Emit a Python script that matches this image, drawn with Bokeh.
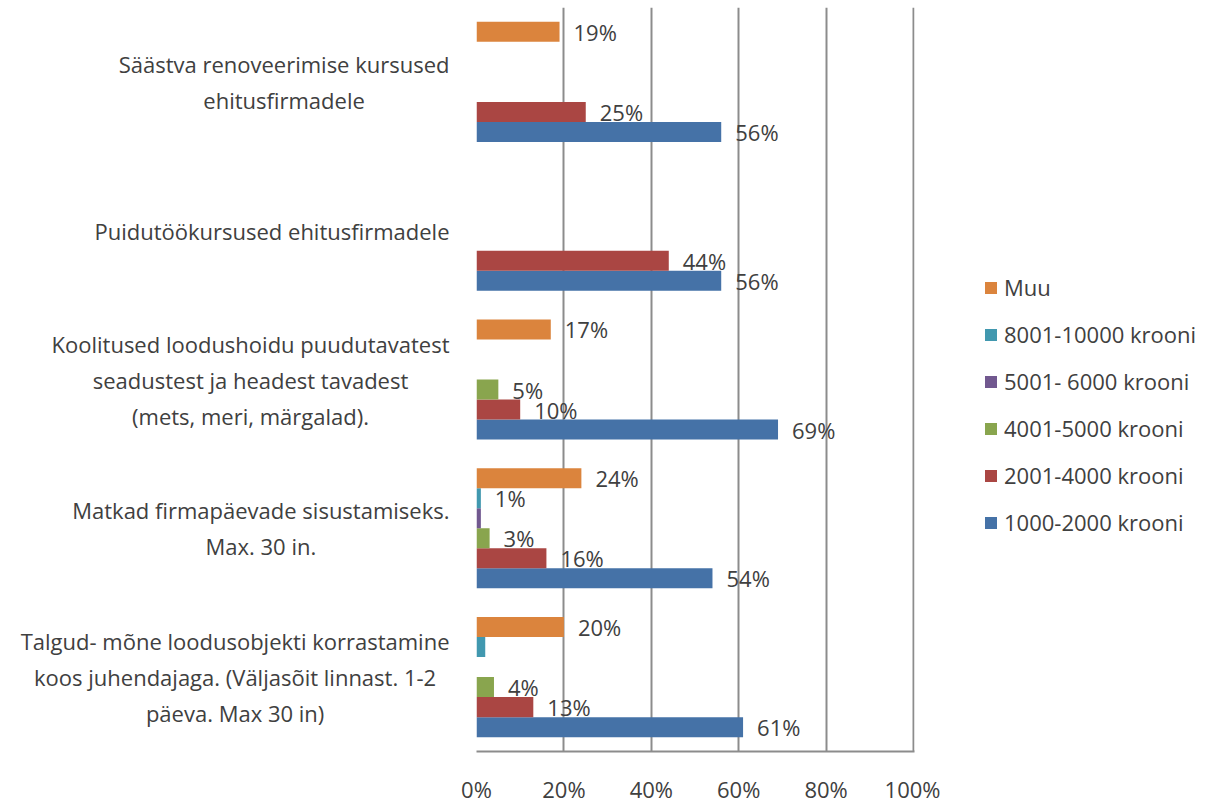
from bokeh.plotting import figure
from bokeh.layouts import row
from bokeh.models import (ColumnDataSource, FactorRange, Range1d, FixedTicker,
                          NumeralTickFormatter, Legend, LegendItem)
from bokeh.transform import dodge
from bokeh.core.properties import value
from bokeh.embed import file_html
from bokeh.resources import INLINE

# ---- data -------------------------------------------------------------
categories = [
    "Talgud- mõne loodusobjekti korrastamine\nkoos juhendajaga. (Väljasõit linnast. 1-2\npäeva. Max 30 in)",
    "Matkad firmapäevade sisustamiseks.\nMax. 30 in.",
    "Koolitused loodushoidu puudutavatest\nseadustest ja headest tavadest\n(mets, meri, märgalad).",
    "Puidutöökursused ehitusfirmadele",
    "Säästva renoveerimise kursused\nehitusfirmadele",
]

series_names = ["1000-2000 krooni", "2001-4000 krooni", "4001-5000 krooni",
                "5001- 6000 krooni", "8001-10000 krooni", "Muu"]

v_1000_2000 = [61, 54, 69, 56, 56]
v_2001_4000 = [13, 16, 10, 44, 25]
v_4001_5000 = [4, 3, 5, 0, 0]
v_5001_6000 = [0, 1, 0, 0, 0]
v_8001_10000 = [2, 1, 0, 0, 0]
v_muu = [20, 24, 17, 0, 19]

lab_1000_2000 = ["61%", "54%", "69%", "56%", "56%"]
lab_2001_4000 = ["13%", "16%", "10%", "44%", "25%"]
lab_4001_5000 = ["4%", "3%", "5%", "", ""]
lab_5001_6000 = ["", "", "", "", ""]
lab_8001_10000 = ["", "1%", "", "", ""]
lab_muu = ["20%", "24%", "17%", "", "19%"]

x_ticks = [0, 0.2, 0.4, 0.6, 0.8, 1.0]

colors = ["#4572A7", "#AA4643", "#89A54E", "#71588F", "#4198AF", "#DB843D"]

values_all = [v_1000_2000, v_2001_4000, v_4001_5000, v_5001_6000, v_8001_10000, v_muu]
labels_all = [lab_1000_2000, lab_2001_4000, lab_4001_5000, lab_5001_6000, lab_8001_10000, lab_muu]

FONT = "Open Sans"
TXT = "#404040"
GRID = "#8c8c8c"
H = 807
TOP, BOTTOM = 7, 56

yr = FactorRange(factors=categories, range_padding=0)

# ---- left: category labels -------------------------------------------
p0 = figure(width=451, height=H, y_range=yr, x_range=Range1d(0, 451),
            output_backend="svg", toolbar_location=None,
            min_border_left=0, min_border_right=0,
            min_border_top=TOP, min_border_bottom=BOTTOM,
            outline_line_color=None)
p0.axis.visible = False
p0.grid.visible = False
csrc = ColumnDataSource(dict(cat=categories, xpos=[449] * len(categories)))
p0.text(x="xpos", y="cat", text="cat", source=csrc,
        anchor=value("center_right"), text_align="center", text_baseline="middle",
        text_font=value(FONT), text_font_size="22px", text_color=TXT)

# ---- main chart -------------------------------------------------------
# frame is 438 px wide so the 100% grid line (at 437 px) is fully visible
p = figure(width=489, height=H, y_range=yr, x_range=Range1d(0, 438 / 437),
           output_backend="svg", toolbar_location=None,
           min_border_left=25, min_border_right=26,
           min_border_top=TOP, min_border_bottom=BOTTOM,
           outline_line_color=None)

bar_h = 0.1345
renderers = []
for i, (name, vals, labs, col) in enumerate(zip(series_names, values_all, labels_all, colors)):
    off = (-2.5 + i) * bar_h
    src = ColumnDataSource(dict(cat=categories, val=[v / 100 for v in vals], lab=labs))
    r = p.hbar(y=dodge("cat", off, range=p.y_range), left=0, right="val", height=bar_h,
               fill_color=col, line_color=None, source=src)
    p.text(x="val", y=dodge("cat", off, range=p.y_range), text="lab", source=src,
           x_offset=14, text_baseline="middle", text_align="left",
           text_font=value(FONT), text_font_size="22px", text_color=TXT)
    renderers.append(r)

p.yaxis.visible = False
p.xaxis.ticker = FixedTicker(ticks=x_ticks)
p.xaxis.formatter = NumeralTickFormatter(format="0%")
p.xaxis.axis_line_color = GRID
p.xaxis.axis_line_width = 2
p.xaxis.major_tick_line_color = None
p.xaxis.minor_tick_line_color = None
p.xaxis.major_tick_in = 0
p.xaxis.major_tick_out = 0
p.xaxis.major_label_standoff = 22
p.xaxis.major_label_text_font = FONT
p.xaxis.major_label_text_font_size = "22px"
p.xaxis.major_label_text_color = TXT

p.xgrid.ticker = FixedTicker(ticks=x_ticks)
p.xgrid.grid_line_color = GRID
p.xgrid.grid_line_width = 2
p.ygrid.grid_line_color = None

# ---- right: legend ----------------------------------------------------
p2 = figure(width=276, height=H, x_range=Range1d(0, 1), y_range=Range1d(0, 1),
            output_backend="svg", toolbar_location=None,
            min_border_left=0, min_border_right=0, min_border_top=0, min_border_bottom=0,
            outline_line_color=None)
p2.axis.visible = False
p2.grid.visible = False
# legend swatches only (zero-size placeholders, nothing visible in the panel)
leg_r = [p2.hbar(y=[0], left=[0], right=[0], height=0, fill_color=c, line_color=None)
         for c in colors]
items = [LegendItem(label=n, renderers=[r]) for n, r in zip(series_names, leg_r)][::-1]
legend = Legend(items=items, location=(43, 214), orientation="vertical",
                glyph_width=15, glyph_height=15, label_standoff=6,
                label_height=30, spacing=17, padding=0, margin=0,
                border_line_color=None, background_fill_alpha=0,
                label_text_font=FONT, label_text_font_size="22px",
                label_text_color=TXT)
p2.add_layout(legend, "center")

layout = row(p0, p, p2, spacing=0)
open("out.html", "w").write(file_html(layout, INLINE))
